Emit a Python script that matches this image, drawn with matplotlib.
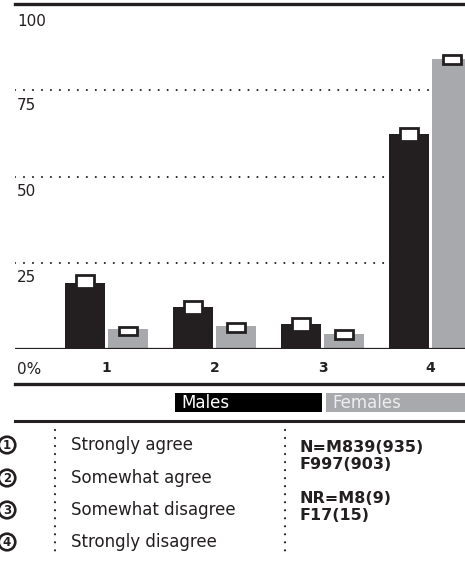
import matplotlib
matplotlib.use("Agg")
import matplotlib.pyplot as plt
from matplotlib.patches import Rectangle
import numpy as np

plt.rcParams['font.family'] = ['DejaVu Sans']

categories = ['1', '2', '3', '4']
males = [19.1, 12.2, 7.2, 62.3]
females = [5.8, 6.7, 4.3, 84.1]
# previous survey values (white markers)
males_prev = [19.6, 12.0, 7.2, 62.3]
females_prev = [5.2, 6.2, 4.2, 83.9]
yticks = [0, 25, 50, 75, 100]
ytick_labels = ['0%', '25', '50', '75', '100']
answers = ['Strongly agree', 'Somewhat agree', 'Somewhat disagree', 'Strongly disagree']
notes = ['N=M839(935)', 'F997(903)', 'NR=M8(9)', 'F17(15)']

dark = '#231f20'
grey = '#a7a9ac'
W, H = 465, 561
dots = (0, (0.01, 4.3))

fig = plt.figure(figsize=(W / 100, H / 100), dpi=100)

# overlay in pixel coordinates for decorations
ov = fig.add_axes([0, 0, 1, 1])
ov.set_xlim(0, W)
ov.set_ylim(H, 0)
ov.axis('off')

ax = fig.add_axes([15 / W, 1 - 349 / H, 450 / W, 345 / H])
ax.set_xlim(-0.847, 3.319)
ax.set_ylim(0, 100)
ax.axis('off')

x = np.arange(len(categories))
bw = 0.37
ax.bar(x - 0.2, males, bw, color=dark, zorder=3)
ax.bar(x + 0.2, females, bw, color=grey, zorder=3)

# markers for previous values
for xi, v in zip(x - 0.2, males_prev):
    ax.add_patch(Rectangle((xi - 0.085, v - 1.9), 0.17, 3.8, fc='white', ec=dark, lw=2.0, zorder=4))
for xi, v in zip(x + 0.2, females_prev):
    ax.add_patch(Rectangle((xi - 0.085, v - 1.2), 0.17, 2.4, fc='white', ec=dark, lw=2.0, zorder=4))

# gridlines and frame lines
for t in [25, 50, 75]:
    ax.axhline(t, color=dark, lw=1.5, ls=dots, dash_capstyle='round', zorder=1)
ax.axhline(100, color=dark, lw=2.4, zorder=2, clip_on=False)
ax.axhline(0, color=dark, lw=1.6, zorder=5)

# y labels placed below their lines
for t, lab in zip(yticks, ytick_labels):
    off = 5.8 if t == 0 else (5.2 if t == 100 else 4.3)
    ax.text(-0.83, t - off, lab, fontsize=11, color=dark, va='center', ha='left', clip_on=False)
for xi, lab in zip(x, categories):
    ax.text(xi, -5.6, lab, fontsize=10, fontweight='bold', color=dark, ha='center', va='center', clip_on=False)

# bottom lines
ov.plot([15, W], [384, 384], color=dark, lw=2.4)
ov.plot([15, W], [421, 421], color=dark, lw=2.2)

# legend boxes
ov.add_patch(Rectangle((175, 393), 147, 19, fc='black', ec='none'))
ov.add_patch(Rectangle((326, 393), 139, 19, fc=grey, ec='none'))
ov.text(181, 403, 'Males', color='white', fontsize=12, va='center', ha='left')
ov.text(332, 403, 'Females', color='#eeeeee', fontsize=12, va='center', ha='left')

# answer key
ys = [445, 478, 510, 542]
for i, (yy, lab) in enumerate(zip(ys, answers)):
    ov.text(7, yy, str(i + 1), fontsize=8.5, fontweight='bold', ha='center', va='center', color=dark,
            bbox=dict(boxstyle='circle,pad=0.15', fc='white', ec=dark, lw=1.9))
    ov.text(71, yy, lab, fontsize=12, ha='left', va='center', color=dark)

for xv in [55, 285]:
    ov.plot([xv, xv], [430, 556], color=dark, lw=1.6, ls=(0, (0.01, 3.6)), dash_capstyle='round')

for yy, lab in zip([447, 464, 498, 516], notes):
    ov.text(299, yy, lab, fontsize=11.5, fontweight='bold', ha='left', va='center', color=dark)

fig.savefig('out.png', dpi=100)
